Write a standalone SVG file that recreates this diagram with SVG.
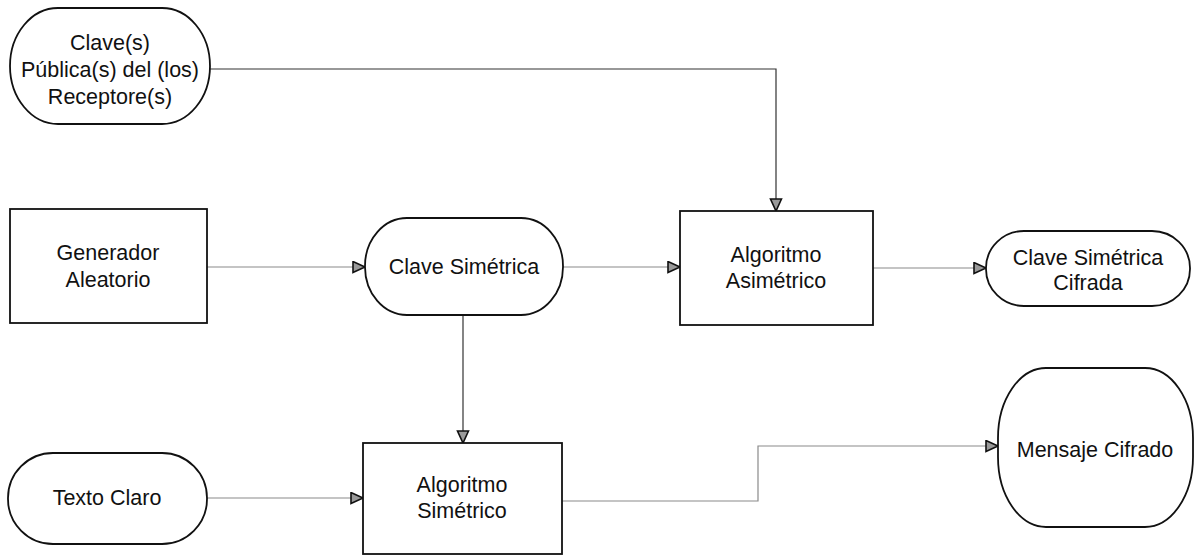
<svg xmlns="http://www.w3.org/2000/svg" width="1198" height="556" viewBox="0 0 1198 556">
<defs>
<marker id="arr" markerUnits="userSpaceOnUse" markerWidth="16" markerHeight="14" refX="13" refY="6.5" orient="auto" viewBox="0 0 16 14">
<path d="M1,1 L13,6.5 L1,12 Z" fill="#9a9a9a" stroke="#111" stroke-width="1.6"/>
</marker>
<style>
.shape{fill:#fff;stroke:#111;stroke-width:1.8}
.t{font-family:"Liberation Sans",Arial,sans-serif;font-size:21.5px;fill:#111;text-anchor:middle}
.c{fill:none;stroke:#8a8a8a;stroke-width:1.2;marker-end:url(#arr)}
.cd{fill:none;stroke:#333;stroke-width:1.2;marker-end:url(#arr)}
</style>
</defs>
<rect width="1198" height="556" fill="#fff"/>
<g id="connectors">
<path class="cd" d="M210,69 H776 V211"/>
<path class="c" d="M207,267 H365"/>
<path class="c" d="M563,267 H680"/>
<path class="c" d="M873,268 H986"/>
<path class="cd" d="M463,315 V443"/>
<path class="c" d="M207,498 H363"/>
<path class="c" d="M562,501 H758 V446 H998"/>
</g>
<g id="claves-publicas">
<rect class="shape" x="10" y="8" width="200" height="116" rx="48" ry="58"/>
<text class="t" x="110" y="50">Clave(s)</text>
<text class="t" x="110" y="77">Pública(s) del (los)</text>
<text class="t" x="110" y="104">Receptore(s)</text>
</g>
<g id="generador">
<rect class="shape" x="10" y="209" width="197" height="114"/>
<text class="t" x="108" y="260">Generador</text>
<text class="t" x="108" y="287">Aleatorio</text>
</g>
<g id="clave-simetrica">
<rect class="shape" x="365" y="218" width="198" height="97" rx="42" ry="48"/>
<text class="t" x="464" y="274">Clave Simétrica</text>
</g>
<g id="algoritmo-asimetrico">
<rect class="shape" x="680" y="211" width="193" height="114"/>
<text class="t" x="776" y="262">Algoritmo</text>
<text class="t" x="776" y="288">Asimétrico</text>
</g>
<g id="clave-cifrada">
<rect class="shape" x="986" y="231" width="204" height="75" rx="38" ry="37"/>
<text class="t" x="1088" y="265">Clave Simétrica</text>
<text class="t" x="1088" y="290">Cifrada</text>
</g>
<g id="texto-claro">
<rect class="shape" x="8" y="453" width="199" height="91" rx="45" ry="45"/>
<text class="t" x="107" y="505">Texto Claro</text>
</g>
<g id="algoritmo-simetrico">
<rect class="shape" x="363" y="443" width="199" height="111"/>
<text class="t" x="462" y="492">Algoritmo</text>
<text class="t" x="462" y="518">Simétrico</text>
</g>
<g id="mensaje-cifrado">
<rect class="shape" x="998" y="368" width="195" height="159" rx="48" ry="70"/>
<text class="t" x="1095" y="457">Mensaje Cifrado</text>
</g>
</svg>
